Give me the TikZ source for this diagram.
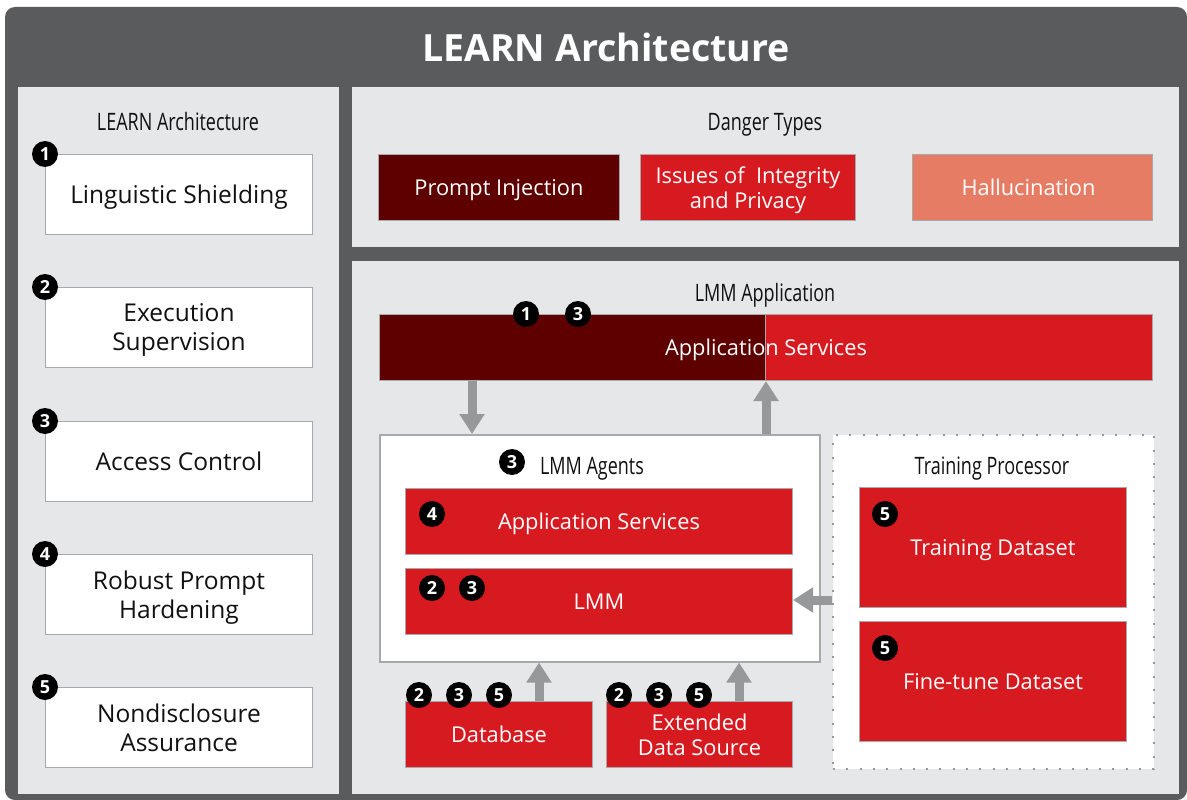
\documentclass[tikz,border=0pt]{standalone}
\usepackage{fontspec}
\setmainfont{Open Sans}
\newfontfamily\condfont[FakeStretch=0.75]{Open Sans}
\usetikzlibrary{arrows.meta}
\definecolor{frame}{HTML}{5A5B5D}
\definecolor{panel}{HTML}{E6E7E9}
\definecolor{bord}{HTML}{A7A9AC}
\definecolor{darkred}{HTML}{5E0000}
\definecolor{mred}{HTML}{D71920}
\definecolor{salmon}{HTML}{E67C63}
\definecolor{arrowgray}{HTML}{97989A}
\definecolor{txt}{HTML}{111111}
\tikzset{
  panelbox/.style={fill=panel, draw=none},
  leftbox/.style={draw=bord, line width=1pt, fill=white, minimum width=267pt, minimum height=80pt, anchor=north west, inner sep=0pt, align=center, text=txt, text depth=0pt, font=\fontsize{24.5}{29}\selectfont},
  redbox/.style={draw=bord, line width=1pt, fill=mred, anchor=north west, inner sep=0pt, align=center, text=white, text depth=0pt, font=\fontsize{21.8}{25}\selectfont},
  header/.style={text=txt, font=\condfont\fontsize{24}{28}\selectfont, inner sep=0pt, anchor=base},
  badge/.style={circle, fill=black, text=white, inner sep=0pt, minimum size=26pt, font=\bfseries\fontsize{18}{18}\selectfont},
  garrow/.style={draw=arrowgray, line width=9pt, -{Triangle[width=24pt,length=20pt]}},
}
\begin{document}
\begin{tikzpicture}[x=1pt,y=-1pt]
\useasboundingbox (0,0) rectangle (1187,800);
\clip (0,0) rectangle (1187,800);
% frame
\fill[frame, rounded corners=10pt] (5,7) rectangle (1187,800);
\node[text=white, font=\bfseries\fontsize{37.5}{40}\selectfont, inner sep=0pt] (title) at (606,47) {LEARN Architecture};
% panels
\fill[panelbox] (18,87) rectangle (339,794);
\fill[panelbox] (352,87) rectangle (1179,247);
\fill[panelbox] (352,261) rectangle (1179,794);
% left column
\node[header] (lh) at (178,130) {LEARN Architecture};
\node[leftbox] (b1) at (45,154) {Linguistic Shielding};
\node[leftbox] (b2) at (45,287) {Execution\\Supervision};
\node[leftbox] (b3) at (45,421) {Access Control};
\node[leftbox] (b4) at (45,554) {Robust Prompt\\Hardening};
\node[leftbox] (b5) at (45,687) {Nondisclosure\\Assurance};
\node[badge] (n1) at (b1.north west) {1};
\node[badge] (n2) at (b2.north west) {2};
\node[badge] (n3) at (b3.north west) {3};
\node[badge] (n4) at (b4.north west) {4};
\node[badge] (n5) at (b5.north west) {5};
% danger types
\node[header] (dh) at (765,130) {Danger Types};
\node[redbox, fill=darkred, minimum width=241pt, minimum height=66pt] (d1) at (378,154) {Prompt Injection};
\node[redbox, minimum width=215pt, minimum height=66pt] (d2) at (640,154) {Issues of~ Integrity\\and Privacy};
\node[redbox, fill=salmon, minimum width=240pt, minimum height=66pt] (d3) at (912,154) {Hallucination\hspace*{8pt}};
% LMM application
\node[header] (ah) at (765,301) {LMM Application};
\node[redbox, fill=darkred, minimum width=386pt, minimum height=66pt] (appL) at (379,314) {};
\node[redbox, minimum width=387pt, minimum height=66pt] (appR) at (765,314) {};
\node[text=white, text depth=0pt, font=\fontsize{21.8}{25}\selectfont, inner sep=0pt] (apptxt) at (766,347) {Application Services};
\node[badge] (a1) at (526,314) {1};
\node[badge] (a3) at (578,314) {3};
% agents
\node[draw=bord, line width=1.5pt, fill=white, minimum width=440pt, minimum height=227pt, anchor=north west, inner sep=0pt] (agents) at (379,434) {};
\node[header] (agh) at (592,474) {LMM Agents};
\node[badge] (g3) at (512,462) {3};
\node[redbox, minimum width=387pt, minimum height=66pt] (as) at (405,488) {Application Services};
\node[badge] (as4) at (432,514) {4};
\node[redbox, minimum width=387pt, minimum height=66pt] (lmm) at (405,568) {LMM};
\node[badge] (l2) at (432,588) {2};
\node[badge] (l3) at (472,588) {3};
% data sources
\node[redbox, minimum width=187pt, minimum height=66pt] (db) at (405,701) {Database};
\node[badge] (db2) at (419,695) {2};
\node[badge] (db3) at (459,695) {3};
\node[badge] (db5) at (499,695) {5};
\node[redbox, minimum width=186pt, minimum height=66pt] (ext) at (606,701) {Extended\\Data Source};
\node[badge] (e2) at (619,695) {2};
\node[badge] (e3) at (659,695) {3};
\node[badge] (e5) at (699,695) {5};
% training processor
\node[draw=arrowgray, line width=2pt, dash pattern=on 2pt off 11.3pt, fill=white, minimum width=321pt, minimum height=334pt, anchor=north west, inner sep=0pt] (tp) at (832,434) {};
\node[header] (tph) at (992,474) {Training Processor};
\node[redbox, minimum width=267pt, minimum height=120pt] (td) at (859,487) {Training Dataset};
\node[badge] (td5) at (885,514) {5};
\node[redbox, minimum width=267pt, minimum height=120pt] (fd) at (859,621) {Fine-tune Dataset};
\node[badge] (fd5) at (885,648) {5};
% arrows
\draw[garrow] (appL.south -| 472,0) -- (agents.north -| 472,0);
\draw[garrow] (agents.north -| 766,0) -- (appR.south -| 766,0);
\draw[garrow] (db.north -| 539,0) -- (agents.south -| 539,0);
\draw[garrow] (ext.north -| 739,0) -- (agents.south -| 739,0);
\draw[garrow] (tp.west |- 0,600) -- (lmm.east |- 0,600);
\end{tikzpicture}
\end{document}
